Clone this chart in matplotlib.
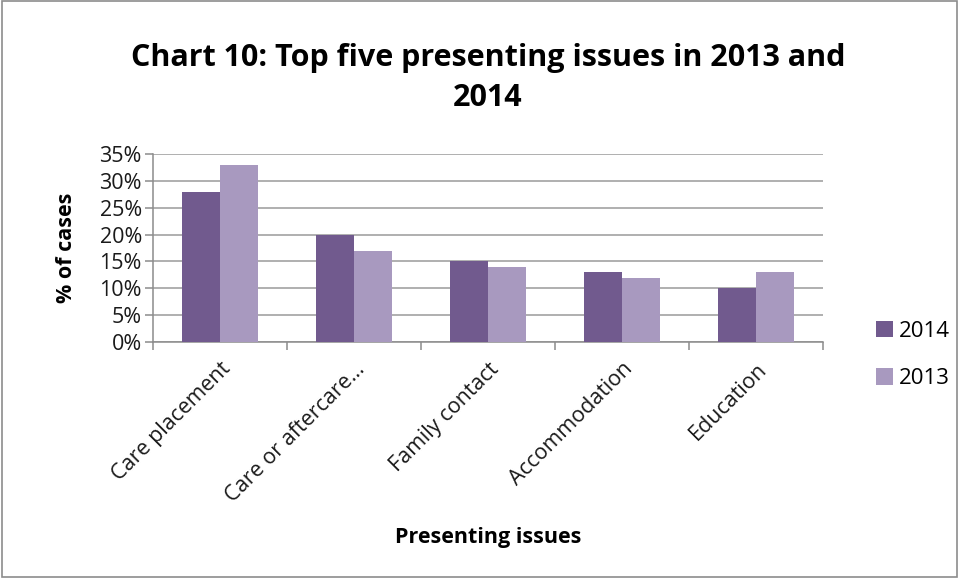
import matplotlib
matplotlib.use("Agg")
import matplotlib.pyplot as plt
import numpy as np
from matplotlib.patches import Rectangle

categories = ["Care placement", "Care or aftercare…", "Family contact", "Accommodation", "Education"]
series_names = ["2014", "2013"]
values_2014 = [28, 20, 15, 13, 10]
values_2013 = [33, 17, 14, 12, 13]
yticks = [0, 5, 10, 15, 20, 25, 30, 35]

colors = ["#715A8E", "#A899BF"]
font = ["Open Sans", "DejaVu Sans"]
plt.rcParams['font.family'] = font

fig = plt.figure(figsize=(9.59, 5.78), dpi=100)
fig.patches.append(Rectangle((0.002, 0.002), 0.996, 0.996, transform=fig.transFigure,
                             fill=False, edgecolor="#8C8C8C", linewidth=1.2))
ax = fig.add_axes([153/959, 1-342/578, (823-153)/959, (342-154)/578])

x = np.arange(len(categories))
w = 0.28
ax.bar(x - w/2, values_2014, width=w, color=colors[0], label=series_names[0], zorder=3)
ax.bar(x + w/2, values_2013, width=w, color=colors[1], label=series_names[1], zorder=3)

ax.set_xlim(-0.5, len(categories) - 0.5)
ax.set_ylim(0, 35)
ax.set_yticks(yticks)
ax.set_yticklabels([f"{v}%" for v in yticks], fontsize=15.5, color="#1a1a1a")
ax.yaxis.grid(True, color="#9A9A9A", linewidth=1.1, zorder=0)
ax.set_axisbelow(True)

ax.set_xticks(x)
ax.set_xticklabels(categories, rotation=45, ha="right", rotation_mode="anchor", fontsize=15.5,
                   color="#1a1a1a")
ax.tick_params(axis="x", which="major", length=0, pad=12)
ax.set_xticks(np.arange(len(categories) + 1) - 0.5, minor=True)
ax.tick_params(axis="x", which="minor", length=6, color="#8C8C8C", width=1.1)
ax.tick_params(axis="y", length=6, color="#8C8C8C", width=1.1, pad=2)

for s in ["top", "right"]:
    ax.spines[s].set_visible(False)
for s in ["left", "bottom"]:
    ax.spines[s].set_color("#8C8C8C")
    ax.spines[s].set_linewidth(1.1)

ax.set_ylabel("% of cases", fontsize=15.5, fontweight="bold", labelpad=16)
fig.text(488/959, 1-538/578, "Presenting issues", fontsize=15.5, fontweight="bold", ha="center", va="center")
fig.text(488/959, 1-78/578, "Chart 10: Top five presenting issues in 2013 and\n2014", fontsize=22,
         fontweight="bold", ha="center", va="center", linespacing=1.45)

leg = ax.legend(loc="center left", bbox_to_anchor=(856/959, 1-355/578), bbox_transform=fig.transFigure,
                frameon=False, fontsize=16, handlelength=0.75, handleheight=0.75, labelspacing=1.2,
                handletextpad=0.3)

fig.savefig("out.png", dpi=100)
